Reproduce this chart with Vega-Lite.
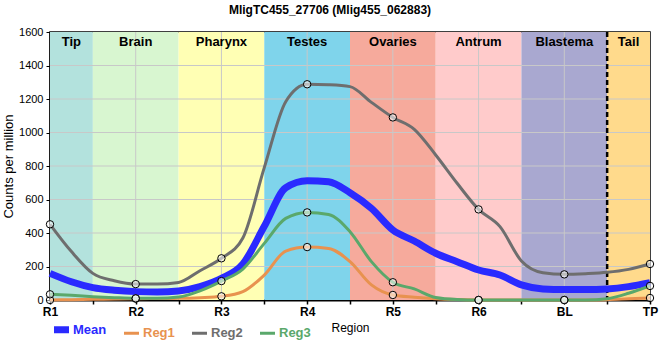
{
  "$schema": "https://vega.github.io/schema/vega-lite/v6.json",
  "width": 600,
  "height": 268,
  "autosize": "none",
  "padding": {"left": 50, "top": 32, "right": 10, "bottom": 60},
  "background": "white",
  "title": {"text": "MligTC455_27706 (Mlig455_062883)", "fontSize": 12, "fontWeight": "bold", "font": "Liberation Sans", "anchor": "middle", "frame": "group", "dx": -20, "offset": 9, "color": "black"},
  "config": {
    "font": "Liberation Sans",
    "view": {"stroke": "black", "strokeWidth": 1.5},
    "axisX": {"values": [0, 1, 2, 3, 4, 5, 6, 7], "labelExpr": "['R1','R2','R3','R4','R5','R6','BL','TP'][datum.value]",
      "grid": false, "domainColor": "black", "domainWidth": 2, "tickColor": "black", "tickSize": 4, "tickWidth": 1.5,
      "labelFontSize": 12, "labelFontWeight": "bold", "labelColor": "black", "labelPadding": 2, "labelFlush": false, "labelOverlap": false,
      "titleFontSize": 12, "titleFontWeight": "normal", "titleColor": "black", "titlePadding": 5},
    "axisY": {"values": [0, 200, 400, 600, 800, 1000, 1200, 1400, 1600], "format": "d", "labelOverlap": false, "labelFlush": false,
      "grid": false, "domainColor": "black", "domainWidth": 2,
      "tickColor": "black", "tickSize": 4, "labelFontSize": 11, "labelColor": "black", "labelPadding": 3,
      "titleFontSize": 13, "titleFontWeight": "normal", "titleColor": "black", "titlePadding": 3}
  },
  "datasets": {
    "bands": [
      {"band": "Tip", "start": 0, "end": 0.5, "mid": 0.25},
      {"band": "Brain", "start": 0.5, "end": 1.5, "mid": 1},
      {"band": "Pharynx", "start": 1.5, "end": 2.5, "mid": 2},
      {"band": "Testes", "start": 2.5, "end": 3.5, "mid": 3},
      {"band": "Ovaries", "start": 3.5, "end": 4.5, "mid": 4},
      {"band": "Antrum", "start": 4.5, "end": 5.5, "mid": 5},
      {"band": "Blastema", "start": 5.5, "end": 6.5, "mid": 6},
      {"band": "Tail", "start": 6.5, "end": 7, "mid": 6.75}
    ],
    "hgrid": [{"v": 200}, {"v": 400}, {"v": 600}, {"v": 800}, {"v": 1000}, {"v": 1200}, {"v": 1400}],
    "vgrid": [{"v": 1}, {"v": 2}, {"v": 3}, {"v": 4}, {"v": 5}, {"v": 6}],
    "lines": [
      {"series": "Mean", "x": 0, "v": 159}, {"series": "Mean", "x": 0.25, "v": 109}, {"series": "Mean", "x": 0.5, "v": 74}, {"series": "Mean", "x": 0.75, "v": 58},
      {"series": "Mean", "x": 1, "v": 50}, {"series": "Mean", "x": 1.25, "v": 48}, {"series": "Mean", "x": 1.5, "v": 54}, {"series": "Mean", "x": 1.75, "v": 80},
      {"series": "Mean", "x": 2, "v": 129}, {"series": "Mean", "x": 2.25, "v": 215}, {"series": "Mean", "x": 2.5, "v": 440}, {"series": "Mean", "x": 2.75, "v": 670},
      {"series": "Mean", "x": 3, "v": 712}, {"series": "Mean", "x": 3.25, "v": 706}, {"series": "Mean", "x": 3.5, "v": 640}, {"series": "Mean", "x": 3.75, "v": 547},
      {"series": "Mean", "x": 4, "v": 418}, {"series": "Mean", "x": 4.25, "v": 352}, {"series": "Mean", "x": 4.5, "v": 279}, {"series": "Mean", "x": 4.75, "v": 229},
      {"series": "Mean", "x": 5, "v": 179}, {"series": "Mean", "x": 5.25, "v": 149}, {"series": "Mean", "x": 5.5, "v": 90}, {"series": "Mean", "x": 5.75, "v": 66},
      {"series": "Mean", "x": 6, "v": 62}, {"series": "Mean", "x": 6.25, "v": 62}, {"series": "Mean", "x": 6.5, "v": 66}, {"series": "Mean", "x": 6.75, "v": 80},
      {"series": "Mean", "x": 7, "v": 104},
      {"series": "Reg1", "x": 0, "v": 0}, {"series": "Reg1", "x": 0.25, "v": 2}, {"series": "Reg1", "x": 0.5, "v": 4}, {"series": "Reg1", "x": 0.75, "v": 6},
      {"series": "Reg1", "x": 1, "v": 8}, {"series": "Reg1", "x": 1.25, "v": 9}, {"series": "Reg1", "x": 1.5, "v": 10}, {"series": "Reg1", "x": 1.75, "v": 14},
      {"series": "Reg1", "x": 2, "v": 22}, {"series": "Reg1", "x": 2.25, "v": 50}, {"series": "Reg1", "x": 2.5, "v": 149}, {"series": "Reg1", "x": 2.75, "v": 292},
      {"series": "Reg1", "x": 3, "v": 316}, {"series": "Reg1", "x": 3.25, "v": 308}, {"series": "Reg1", "x": 3.5, "v": 229}, {"series": "Reg1", "x": 3.75, "v": 90},
      {"series": "Reg1", "x": 4, "v": 30}, {"series": "Reg1", "x": 4.25, "v": 17}, {"series": "Reg1", "x": 4.5, "v": 8}, {"series": "Reg1", "x": 4.75, "v": 3},
      {"series": "Reg1", "x": 5, "v": 0}, {"series": "Reg1", "x": 5.25, "v": 0}, {"series": "Reg1", "x": 5.5, "v": 0}, {"series": "Reg1", "x": 5.75, "v": 0},
      {"series": "Reg1", "x": 6, "v": 0}, {"series": "Reg1", "x": 6.25, "v": 0}, {"series": "Reg1", "x": 6.5, "v": 2}, {"series": "Reg1", "x": 6.75, "v": 7},
      {"series": "Reg1", "x": 7, "v": 12},
      {"series": "Reg2", "x": 0, "v": 452}, {"series": "Reg2", "x": 0.25, "v": 289}, {"series": "Reg2", "x": 0.5, "v": 159}, {"series": "Reg2", "x": 0.75, "v": 115},
      {"series": "Reg2", "x": 1, "v": 95}, {"series": "Reg2", "x": 1.25, "v": 95}, {"series": "Reg2", "x": 1.5, "v": 105}, {"series": "Reg2", "x": 1.75, "v": 175},
      {"series": "Reg2", "x": 2, "v": 249}, {"series": "Reg2", "x": 2.25, "v": 370}, {"series": "Reg2", "x": 2.5, "v": 790}, {"series": "Reg2", "x": 2.75, "v": 1184},
      {"series": "Reg2", "x": 3, "v": 1288}, {"series": "Reg2", "x": 3.25, "v": 1285}, {"series": "Reg2", "x": 3.5, "v": 1274}, {"series": "Reg2", "x": 3.75, "v": 1180},
      {"series": "Reg2", "x": 4, "v": 1090}, {"series": "Reg2", "x": 4.25, "v": 1019}, {"series": "Reg2", "x": 4.5, "v": 866}, {"series": "Reg2", "x": 4.75, "v": 697},
      {"series": "Reg2", "x": 5, "v": 541}, {"series": "Reg2", "x": 5.25, "v": 438}, {"series": "Reg2", "x": 5.5, "v": 233}, {"series": "Reg2", "x": 5.75, "v": 163},
      {"series": "Reg2", "x": 6, "v": 153}, {"series": "Reg2", "x": 6.25, "v": 157}, {"series": "Reg2", "x": 6.5, "v": 165}, {"series": "Reg2", "x": 6.75, "v": 183},
      {"series": "Reg2", "x": 7, "v": 215},
      {"series": "Reg3", "x": 0, "v": 34}, {"series": "Reg3", "x": 0.25, "v": 28}, {"series": "Reg3", "x": 0.5, "v": 20}, {"series": "Reg3", "x": 0.75, "v": 14},
      {"series": "Reg3", "x": 1, "v": 10}, {"series": "Reg3", "x": 1.25, "v": 10}, {"series": "Reg3", "x": 1.5, "v": 18}, {"series": "Reg3", "x": 1.75, "v": 55},
      {"series": "Reg3", "x": 2, "v": 113}, {"series": "Reg3", "x": 2.25, "v": 185}, {"series": "Reg3", "x": 2.5, "v": 338}, {"series": "Reg3", "x": 2.75, "v": 487},
      {"series": "Reg3", "x": 3, "v": 523}, {"series": "Reg3", "x": 3.25, "v": 511}, {"series": "Reg3", "x": 3.5, "v": 408}, {"series": "Reg3", "x": 3.75, "v": 229},
      {"series": "Reg3", "x": 4, "v": 106}, {"series": "Reg3", "x": 4.25, "v": 66}, {"series": "Reg3", "x": 4.5, "v": 15}, {"series": "Reg3", "x": 4.75, "v": 3},
      {"series": "Reg3", "x": 5, "v": 0}, {"series": "Reg3", "x": 5.25, "v": 0}, {"series": "Reg3", "x": 5.5, "v": 0}, {"series": "Reg3", "x": 5.75, "v": 0},
      {"series": "Reg3", "x": 6, "v": 0}, {"series": "Reg3", "x": 6.25, "v": 0}, {"series": "Reg3", "x": 6.5, "v": 8}, {"series": "Reg3", "x": 6.75, "v": 40},
      {"series": "Reg3", "x": 7, "v": 84}
    ],
    "points": [
      {"series": "Reg1", "region": "R1", "pos": 0, "v": 0}, {"series": "Reg1", "region": "R2", "pos": 1, "v": 8}, {"series": "Reg1", "region": "R3", "pos": 2, "v": 22}, {"series": "Reg1", "region": "R4", "pos": 3, "v": 316},
      {"series": "Reg1", "region": "R5", "pos": 4, "v": 30}, {"series": "Reg1", "region": "R6", "pos": 5, "v": 0}, {"series": "Reg1", "region": "BL", "pos": 6, "v": 0}, {"series": "Reg1", "region": "TP", "pos": 7, "v": 12},
      {"series": "Reg2", "region": "R1", "pos": 0, "v": 452}, {"series": "Reg2", "region": "R2", "pos": 1, "v": 95}, {"series": "Reg2", "region": "R3", "pos": 2, "v": 249}, {"series": "Reg2", "region": "R4", "pos": 3, "v": 1288},
      {"series": "Reg2", "region": "R5", "pos": 4, "v": 1090}, {"series": "Reg2", "region": "R6", "pos": 5, "v": 541}, {"series": "Reg2", "region": "BL", "pos": 6, "v": 153}, {"series": "Reg2", "region": "TP", "pos": 7, "v": 215},
      {"series": "Reg3", "region": "R1", "pos": 0, "v": 34}, {"series": "Reg3", "region": "R2", "pos": 1, "v": 10}, {"series": "Reg3", "region": "R3", "pos": 2, "v": 113}, {"series": "Reg3", "region": "R4", "pos": 3, "v": 523},
      {"series": "Reg3", "region": "R5", "pos": 4, "v": 106}, {"series": "Reg3", "region": "R6", "pos": 5, "v": 0}, {"series": "Reg3", "region": "BL", "pos": 6, "v": 0}, {"series": "Reg3", "region": "TP", "pos": 7, "v": 84}
    ]
  },
  "layer": [
    {
      "data": {"name": "bands"},
      "mark": {"type": "rect"},
      "encoding": {
        "x": {"field": "start", "type": "quantitative", "title": "Region",
          "scale": {"domain": [0, 7], "nice": false, "zero": false}},
        "x2": {"field": "end"},
        "fill": {"field": "band", "type": "nominal", "legend": null,
          "scale": {"domain": ["Tip", "Brain", "Pharynx", "Testes", "Ovaries", "Antrum", "Blastema", "Tail"],
            "range": ["#b3e2dd", "#d8f6d0", "#ffffb4", "#7fd4eb", "#f6aa9c", "#ffcbcb", "#a9a8d0", "#ffda8c"]}}
      }
    },
    {
      "data": {"name": "hgrid"},
      "mark": {"type": "rule", "color": "#c8c8c8", "strokeWidth": 1},
      "encoding": {
        "y": {"field": "v", "type": "quantitative", "title": "Counts per million",
          "scale": {"domain": [0, 1600], "nice": false}}
      }
    },
    {
      "data": {"name": "vgrid"},
      "mark": {"type": "rule", "color": "#c8c8c8", "strokeWidth": 1},
      "encoding": {"x": {"field": "v", "type": "quantitative", "title": "Region"}}
    },
    {
      "data": {"name": "bands"},
      "transform": [{"filter": "datum.band === 'Tail'"}],
      "mark": {"type": "rule", "color": "black", "strokeWidth": 2.5, "strokeDash": [5, 3]},
      "encoding": {"x": {"field": "start", "type": "quantitative", "title": "Region"}}
    },
    {
      "data": {"name": "lines"},
      "transform": [{"filter": "datum.series === 'Mean'"}],
      "mark": {"type": "line", "interpolate": "monotone", "strokeWidth": 7},
      "encoding": {
        "x": {"field": "x", "type": "quantitative", "title": "Region"},
        "y": {"field": "v", "type": "quantitative", "title": "Counts per million"},
        "color": {"field": "series", "type": "nominal",
          "scale": {"domain": ["Mean", "Reg1", "Reg2", "Reg3"], "range": ["#2a2aff", "#e8924f", "#6e6e6e", "#5aa86b"]},
          "legend": {"title": null, "orient": "none", "legendX": 5, "legendY": 291, "direction": "horizontal",
            "symbolType": "stroke", "symbolSize": 225, "symbolStrokeWidth": 3, "labelFontSize": 13, "labelFontWeight": "bold",
            "labelOffset": 5, "columnPadding": 11,
            "encode": {"labels": {"update": {"fill": {"scale": "color", "field": "value"}}},
              "symbols": {"update": {"strokeWidth": {"signal": "datum.value === 'Mean' ? 7 : 3"}}}}}}
      }
    },
    {
      "data": {"name": "lines"},
      "transform": [{"filter": "datum.series !== 'Mean'"}],
      "mark": {"type": "line", "interpolate": "monotone", "strokeWidth": 3},
      "encoding": {
        "x": {"field": "x", "type": "quantitative", "title": "Region"},
        "y": {"field": "v", "type": "quantitative", "title": "Counts per million"},
        "color": {"field": "series", "type": "nominal"}
      }
    },
    {
      "data": {"name": "points"},
      "mark": {"type": "point", "shape": "circle", "filled": true, "fill": "white", "fillOpacity": 0.55, "stroke": "black", "strokeWidth": 1, "size": 55, "clip": false},
      "encoding": {
        "x": {"field": "pos", "type": "quantitative", "title": "Region"},
        "y": {"field": "v", "type": "quantitative", "title": "Counts per million"}
      }
    },
    {
      "data": {"name": "bands"},
      "mark": {"type": "text", "fontSize": 13, "fontWeight": "bold", "color": "black", "baseline": "middle", "dy": 10},
      "encoding": {
        "x": {"field": "mid", "type": "quantitative", "title": "Region"},
        "y": {"datum": 1600},
        "text": {"field": "band"}
      }
    }
  ]
}
